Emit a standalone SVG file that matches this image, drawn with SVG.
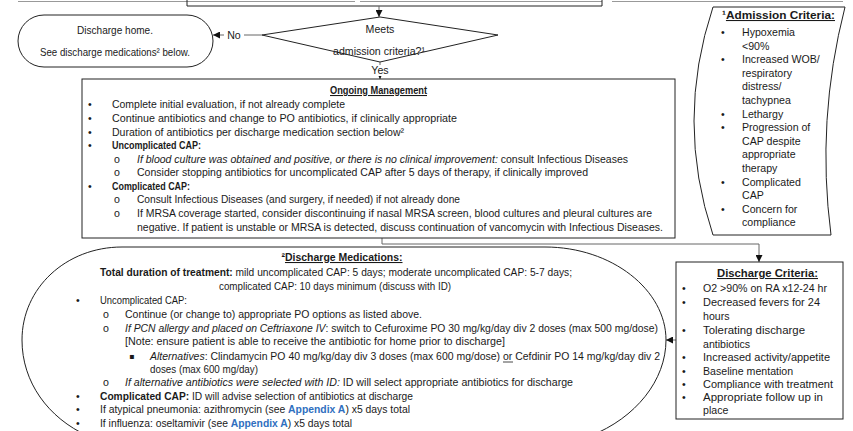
<svg xmlns="http://www.w3.org/2000/svg" width="853" height="431" viewBox="0 0 853 431">
<style>
.t{font-family:"Liberation Sans",Arial,sans-serif;font-size:10.6px;fill:#1a1a1a}
.b{font-weight:bold}
.i{font-style:italic}
.u{text-decoration:underline}
.c{text-anchor:middle}
.bl{font-family:"DejaVu Sans","Liberation Sans",sans-serif;font-size:8px;fill:#1a1a1a}
.shape{fill:#fff;stroke:#222;stroke-width:1}
.conn{fill:none;stroke:#666;stroke-width:1}
.lnk{fill:#2f6fc0;font-weight:bold}
</style>
<defs>
<marker id="ah" viewBox="0 0 10 10" refX="10" refY="5" markerWidth="7" markerHeight="7" markerUnits="userSpaceOnUse" orient="auto"><path d="M0,0 L10,5 L0,10 z" fill="#111"/></marker>
</defs>
<rect width="853" height="431" fill="#fff"/>

<g id="top-partial">
<line x1="18" y1="1.5" x2="355" y2="1.5" stroke="#999"/>
<line x1="360" y1="1.5" x2="602" y2="1.5" stroke="#999"/>
<line x1="612" y1="1.5" x2="843" y2="1.5" stroke="#999"/>
<path d="M187,0 V6 H602 V0" fill="none" stroke="#222"/>
</g>

<g id="connectors">
<path class="conn" d="M379,6 V17" marker-end="url(#ah)"/>
<path class="conn" d="M262,35 H213" marker-end="url(#ah)"/>
<path class="conn" d="M380,62 V79" marker-end="url(#ah)"/>
<path class="conn" d="M382,238 V244 H759 V262" marker-end="url(#ah)"/>
<path class="conn" d="M676,340 H666" marker-end="url(#ah)"/>
<rect x="224" y="29" width="20" height="12" fill="#fff"/>
<text class="t c" x="234" y="39">No</text>
<rect x="370" y="65" width="20" height="11" fill="#fff"/>
<text class="t c" x="380" y="74">Yes</text>
</g>

<g id="node-discharge-home">
<rect class="shape" x="18" y="15" width="195" height="52" rx="26" ry="26"/>
<text class="t c" x="115" y="34" textLength="76" lengthAdjust="spacingAndGlyphs">Discharge home.</text>
<text class="t c" x="115" y="56" textLength="150" lengthAdjust="spacingAndGlyphs">See discharge medications² below.</text>
</g>

<g id="node-decision">
<path class="shape" d="M380,17 L498,35 L380,62 L262,35 Z"/>
<text class="t c" x="380" y="33">Meets</text>
<text class="t c" x="379" y="55" textLength="92" lengthAdjust="spacingAndGlyphs">admission criteria?¹</text>
</g>

<g id="node-ongoing">
<rect class="shape" x="82" y="79" width="593" height="159"/>
<text class="t b u c" x="378.5" y="94" textLength="97" lengthAdjust="spacingAndGlyphs">Ongoing Management</text>
<text class="t" x="88" y="108">•</text>
<text class="t" x="112" y="108" textLength="233" lengthAdjust="spacingAndGlyphs">Complete initial evaluation, if not already complete</text>
<text class="t" x="88" y="122">•</text>
<text class="t" x="112" y="122" textLength="345" lengthAdjust="spacingAndGlyphs">Continue antibiotics and change to PO antibiotics, if clinically appropriate</text>
<text class="t" x="88" y="136">•</text>
<text class="t" x="112" y="136" textLength="292" lengthAdjust="spacingAndGlyphs">Duration of antibiotics per discharge medication section below²</text>
<text class="t" x="88" y="149">•</text>
<text class="t b" x="112" y="149" textLength="89" lengthAdjust="spacingAndGlyphs">Uncomplicated CAP:</text>
<text class="t" x="114" y="163" font-size="9">o</text>
<text class="t" x="137" y="163" textLength="491" lengthAdjust="spacingAndGlyphs"><tspan class="i">If blood culture was obtained and positive, or there is no clinical improvement:</tspan> consult Infectious Diseases</text>
<text class="t" x="114" y="176" font-size="9">o</text>
<text class="t" x="137" y="176" textLength="451" lengthAdjust="spacingAndGlyphs">Consider stopping antibiotics for uncomplicated CAP after 5 days of therapy, if clinically improved</text>
<text class="t" x="88" y="190">•</text>
<text class="t b" x="112" y="190" textLength="78" lengthAdjust="spacingAndGlyphs">Complicated CAP:</text>
<text class="t" x="114" y="203" font-size="9">o</text>
<text class="t" x="137" y="203" textLength="323" lengthAdjust="spacingAndGlyphs">Consult Infectious Diseases (and surgery, if needed) if not already done</text>
<text class="t" x="114" y="217" font-size="9">o</text>
<text class="t" x="137" y="217" textLength="515" lengthAdjust="spacingAndGlyphs">If MRSA coverage started, consider discontinuing if nasal MRSA screen, blood cultures and pleural cultures are</text>
<text class="t" x="137" y="231" textLength="526" lengthAdjust="spacingAndGlyphs">negative. If patient is unstable or MRSA is detected, discuss continuation of vancomycin with Infectious Diseases.</text>
</g>

<g id="node-admission-criteria">
<path class="shape" d="M713,7 L845,7 Q816,120 831,235 L713,235 Q675,121 713,7 Z"/>
<text class="t b" x="722" y="19" textLength="113" lengthAdjust="spacingAndGlyphs">¹<tspan class="u">Admission Criteria:</tspan></text>
<text class="t" x="721" y="36">•</text>
<text class="t" x="742" y="36">Hypoxemia</text>
<text class="t" x="742" y="50">&lt;90%</text>
<text class="t" x="721" y="63">•</text>
<text class="t" x="742" y="63">Increased WOB/</text>
<text class="t" x="742" y="77">respiratory</text>
<text class="t" x="742" y="90">distress/</text>
<text class="t" x="742" y="104">tachypnea</text>
<text class="t" x="721" y="118">•</text>
<text class="t" x="742" y="118">Lethargy</text>
<text class="t" x="721" y="131">•</text>
<text class="t" x="742" y="131">Progression of</text>
<text class="t" x="742" y="145">CAP despite</text>
<text class="t" x="742" y="158">appropriate</text>
<text class="t" x="742" y="172">therapy</text>
<text class="t" x="721" y="186">•</text>
<text class="t" x="742" y="186">Complicated</text>
<text class="t" x="742" y="199">CAP</text>
<text class="t" x="721" y="213">•</text>
<text class="t" x="742" y="213">Concern for</text>
<text class="t" x="742" y="226">compliance</text>
</g>

<g id="node-discharge-meds">
<path class="shape" d="M122,247 L545,247 C612,247 666,290 666,340 C666,380 636,418 590,436 L88,436 C48,418 22,382 22,340 C22,288 66,247 122,247 Z"/>
<text class="t b c" x="342" y="261" textLength="121" lengthAdjust="spacingAndGlyphs">²<tspan class="u">Discharge Medications:</tspan></text>
<text class="t" x="100" y="276" textLength="472" lengthAdjust="spacingAndGlyphs"><tspan class="b">Total duration of treatment:</tspan> mild uncomplicated CAP: 5 days; moderate uncomplicated CAP: 5-7 days;</text>
<text class="t" x="219" y="290" textLength="232" lengthAdjust="spacingAndGlyphs">complicated CAP: 10 days minimum (discuss with ID)</text>
<text class="t" x="76" y="304">•</text>
<text class="t" x="100" y="304" textLength="87" lengthAdjust="spacingAndGlyphs">Uncomplicated CAP:</text>
<text class="t" x="103" y="318" font-size="9">o</text>
<text class="t" x="125" y="318" textLength="297" lengthAdjust="spacingAndGlyphs">Continue (or change to) appropriate PO options as listed above.</text>
<text class="t" x="103" y="332" font-size="9">o</text>
<text class="t" x="125" y="332" textLength="533" lengthAdjust="spacingAndGlyphs"><tspan class="i">If PCN allergy and placed on Ceftriaxone IV</tspan>: switch to Cefuroxime PO 30 mg/kg/day div 2 doses (max 500 mg/dose)</text>
<text class="t" x="125" y="345" textLength="380" lengthAdjust="spacingAndGlyphs">[Note: ensure patient is able to receive the antibiotic for home prior to discharge]</text>
<text class="bl" x="129" y="358.5">▪</text>
<text class="t" x="150" y="360" textLength="510" lengthAdjust="spacingAndGlyphs"><tspan class="i">Alternatives</tspan>: Clindamycin PO 40 mg/kg/day div 3 doses (max 600 mg/dose) or Cefdinir PO 14 mg/kg/day div 2</text>
<line x1="503" y1="362" x2="513" y2="362" stroke="#1a1a1a" stroke-width="0.8"/>
<text class="t" x="150" y="373" textLength="108" lengthAdjust="spacingAndGlyphs">doses (max 600 mg/day)</text>
<text class="t" x="103" y="386" font-size="9">o</text>
<text class="t" x="125" y="386" textLength="448" lengthAdjust="spacingAndGlyphs"><tspan class="i">If alternative antibiotics were selected with ID:</tspan> ID will select appropriate antibiotics for discharge</text>
<text class="t" x="76" y="400">•</text>
<text class="t" x="100" y="400" textLength="313" lengthAdjust="spacingAndGlyphs"><tspan class="b">Complicated CAP:</tspan> ID will advise selection of antibiotics at discharge</text>
<text class="t" x="76" y="413">•</text>
<text class="t" x="100" y="413" textLength="310" lengthAdjust="spacingAndGlyphs">If atypical pneumonia: azithromycin (see <tspan class="lnk">Appendix A</tspan>) x5 days total</text>
<text class="t" x="76" y="427">•</text>
<text class="t" x="100" y="427" textLength="252" lengthAdjust="spacingAndGlyphs">If influenza: oseltamivir (see <tspan class="lnk">Appendix A</tspan>) x5 days total</text>
</g>

<g id="node-discharge-criteria">
<rect class="shape" x="676" y="262" width="167" height="157"/>
<text class="t b u" x="717" y="277" textLength="101" lengthAdjust="spacingAndGlyphs">Discharge Criteria:</text>
<text class="t" x="682" y="292">•</text>
<text class="t" x="703" y="292" textLength="124" lengthAdjust="spacingAndGlyphs">O2 &gt;90% on RA x12-24 hr</text>
<text class="t" x="682" y="306">•</text>
<text class="t" x="703" y="306" textLength="117" lengthAdjust="spacingAndGlyphs">Decreased fevers for 24</text>
<text class="t" x="703" y="320">hours</text>
<text class="t" x="682" y="334">•</text>
<text class="t" x="703" y="334" textLength="102" lengthAdjust="spacingAndGlyphs">Tolerating discharge</text>
<text class="t" x="703" y="348">antibiotics</text>
<text class="t" x="682" y="361">•</text>
<text class="t" x="703" y="361" textLength="127" lengthAdjust="spacingAndGlyphs">Increased activity/appetite</text>
<text class="t" x="682" y="375">•</text>
<text class="t" x="703" y="375">Baseline mentation</text>
<text class="t" x="682" y="388">•</text>
<text class="t" x="703" y="388" textLength="130" lengthAdjust="spacingAndGlyphs">Compliance with treatment</text>
<text class="t" x="682" y="401">•</text>
<text class="t" x="703" y="401" textLength="120" lengthAdjust="spacingAndGlyphs">Appropriate follow up in</text>
<text class="t" x="703" y="414">place</text>
</g>
</svg>
